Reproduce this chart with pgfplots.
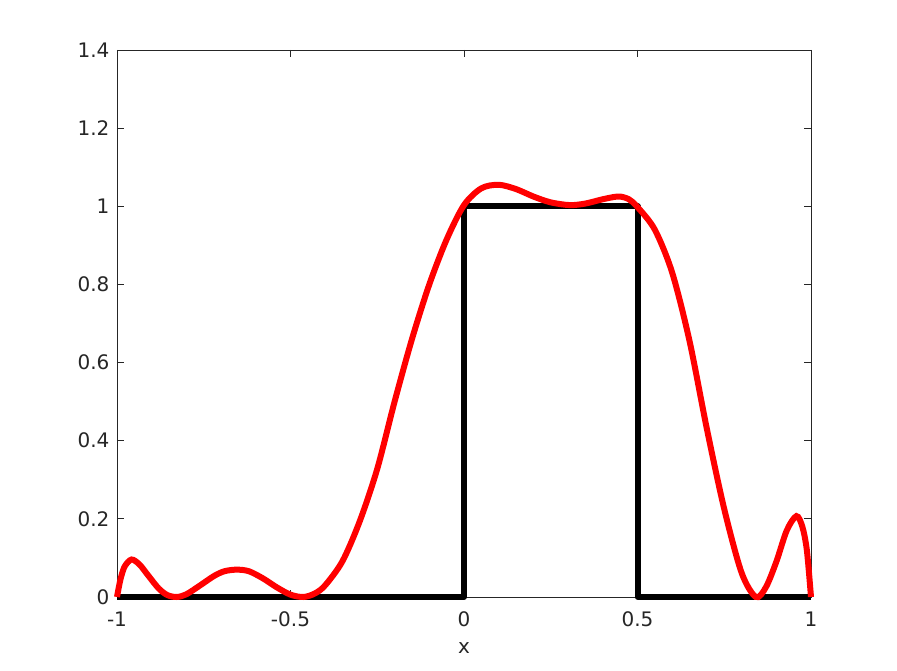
\documentclass[border=0pt]{standalone}
\usepackage{pgfplots}
\pgfplotsset{compat=1.18}
\usepackage{fontspec}
\setmainfont{DejaVu Sans}
\definecolor{axgray}{gray}{0.15}

\begin{document}
\begin{tikzpicture}[x=1pt,y=1pt]
\begin{axis}[
  at={(0,0)}, anchor=south west,
  scale only axis, width=694pt, height=547pt,
  xmin=-1, xmax=1, ymin=0, ymax=1.4,
  xtick={-1,-0.5,0,0.5,1},
  xticklabels={-1,-0.5,0,0.5,1},
  ytick={0,0.2,0.4,0.6,0.8,1,1.2,1.4},
  yticklabels={0,0.2,0.4,0.6,0.8,1,1.2,1.4},
  tick align=inside, major tick length=7pt,
  tick style={axgray, line width=0.8pt},
  axis line style={axgray, line width=0.8pt},
  ticklabel style={font=\fontsize{20}{24}\selectfont, text=axgray},
  xticklabel style={yshift=-11pt},
  yticklabel style={xshift=-4pt},
  xlabel={x},
  xlabel style={font=\fontsize{20}{24}\selectfont, text=axgray, yshift=-9pt},
  clip=false,
]
\addplot[black, line width=6pt, line join=round] coordinates {
  (-1,0) (0,0) (0,1) (0.5,1) (0.5,0) (1,0)
};
\addplot[red, line width=6pt, smooth, tension=0.5] coordinates {
  (-1.000,0.000) (-0.990,0.045) (-0.978,0.078) (-0.958,0.096) (-0.935,0.083)
  (-0.910,0.055) (-0.880,0.022) (-0.855,0.005) (-0.828,0.000) (-0.800,0.007)
  (-0.760,0.030) (-0.720,0.054) (-0.690,0.066) (-0.655,0.070) (-0.620,0.066)
  (-0.580,0.048) (-0.540,0.025) (-0.500,0.006) (-0.463,0.000) (-0.430,0.009)
  (-0.400,0.030) (-0.350,0.092) (-0.300,0.195) (-0.250,0.328) (-0.200,0.500)
  (-0.150,0.660) (-0.100,0.800) (-0.050,0.915) (0.000,1.003) (0.050,1.046)
  (0.100,1.055) (0.150,1.044) (0.200,1.025) (0.250,1.010) (0.305,1.003)
  (0.350,1.007) (0.400,1.018) (0.445,1.025) (0.475,1.018) (0.500,0.998)
  (0.550,0.940) (0.600,0.830) (0.650,0.655) (0.700,0.430) (0.750,0.225)
  (0.800,0.062) (0.841,0.000) (0.870,0.025) (0.900,0.090) (0.930,0.170)
  (0.958,0.207) (0.975,0.180) (0.988,0.120) (1.000,0.000)
};
\end{axis}
\path (-117,-74) rectangle (780,597);
\end{tikzpicture}
\end{document}
